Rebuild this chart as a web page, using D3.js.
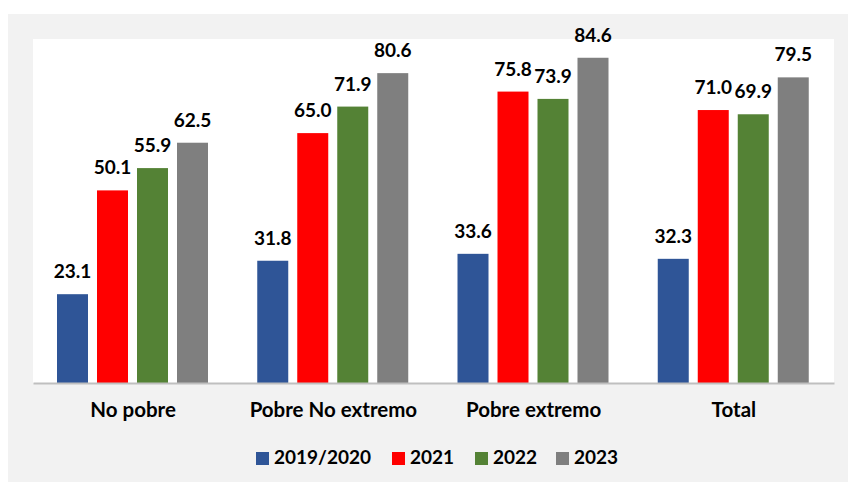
<!DOCTYPE html>
<html>
<head>
<meta charset="utf-8">
<script src="https://cdn.jsdelivr.net/npm/d3@7"></script>
<style>
    body { margin: 0; background: #ffffff; }
    svg { display: block; }
</style>
</head>
<body>
<div id="chart"></div>
<script>
const categories = ["No pobre", "Pobre No extremo", "Pobre extremo", "Total"];
const seriesNames = ["2019/2020", "2021", "2022", "2023"];
const v2019 = [23.1, 31.8, 33.6, 32.3];
const v2021 = [50.1, 65.0, 75.8, 71.0];
const v2022 = [55.9, 71.9, 73.9, 69.9];
const v2023 = [62.5, 80.6, 84.6, 79.5];
const colors = ["#2f5597", "#ff0000", "#548235", "#7f7f7f"];

const width = 848;
const height = 482;
const marginLeft = 33;
const marginRight = 14;
const marginTop = 37;
const baseline = 383;
const font = "Lato, 'Open Sans', sans-serif";

const series = [v2019, v2021, v2022, v2023];

const svg = d3.select("#chart")
    .append("svg")
    .attr("width", width)
    .attr("height", height);

// outer gray panel
svg.append("rect")
    .attr("x", 8)
    .attr("y", 14)
    .attr("width", width - 8)
    .attr("height", height - 14)
    .attr("fill", "#f2f2f2");

// white plot area
svg.append("rect")
    .attr("x", marginLeft)
    .attr("y", 39)
    .attr("width", width - marginRight - marginLeft)
    .attr("height", baseline - 39)
    .attr("fill", "#ffffff");

const x0 = d3.scaleBand()
    .domain(categories)
    .range([marginLeft, width - marginRight]);

const x1 = d3.scaleBand()
    .domain(seriesNames)
    .range([24, 175])
    .paddingInner(0.225)
    .paddingOuter(0);

const y = d3.scaleLinear()
    .domain([0, 90])
    .range([baseline, marginTop]);

const groups = svg.append("g")
    .selectAll("g")
    .data(categories)
    .join("g")
    .attr("transform", (d) => `translate(${x0(d)},0)`);

const bars = groups.selectAll("g")
    .data((c, i) => seriesNames.map((s, j) => ({ s, j, v: series[j][i] })))
    .join("g");

bars.append("rect")
    .attr("x", (d) => x1(d.s))
    .attr("width", x1.bandwidth())
    .attr("y", (d) => y(d.v))
    .attr("height", (d) => baseline - y(d.v))
    .attr("fill", (d) => colors[d.j]);

bars.append("text")
    .attr("x", (d) => x1(d.s) + x1.bandwidth() / 2)
    .attr("y", (d) => y(d.v) - 16)
    .attr("text-anchor", "middle")
    .style("font-family", font)
    .style("font-weight", "bold")
    .style("font-size", "19px")
    .style("fill", "#000")
    .text((d) => d.v.toFixed(1));

// x axis
const xAxis = svg.append("g")
    .attr("transform", `translate(0,${baseline})`)
    .call(d3.axisBottom(x0).tickSize(0).tickPadding(19));

xAxis.select(".domain")
    .attr("stroke", "#bfbfbf")
    .attr("stroke-width", 2);

xAxis.selectAll("text")
    .style("font-family", font)
    .style("font-weight", "bold")
    .style("font-size", "20.5px")
    .style("fill", "#000");

// legend
const legendX = [256, 392, 475, 556];
const legend = svg.append("g")
    .selectAll("g")
    .data(seriesNames)
    .join("g")
    .attr("transform", (d, i) => `translate(${legendX[i]},452)`);

legend.append("rect")
    .attr("width", 13)
    .attr("height", 13)
    .attr("fill", (d, i) => colors[i]);

legend.append("text")
    .attr("x", 18)
    .attr("y", 12)
    .style("font-family", font)
    .style("font-weight", "bold")
    .style("font-size", "19px")
    .style("fill", "#000")
    .text((d) => d);
</script>
</body>
</html>
